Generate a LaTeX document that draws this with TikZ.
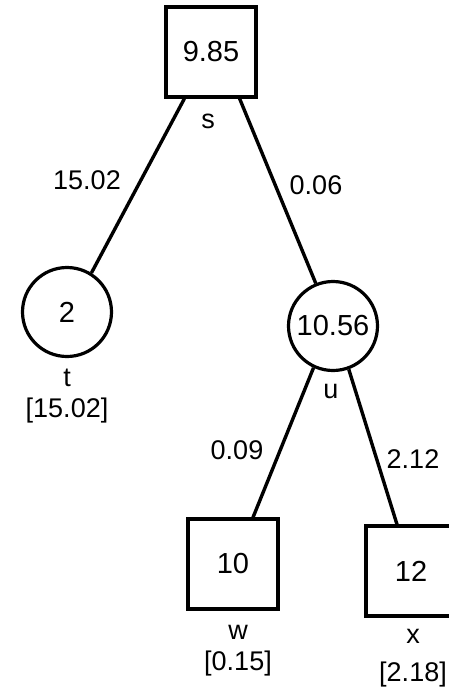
\documentclass[tikz,border=0pt]{standalone}
\usepackage{fontspec}
\setmainfont{Liberation Sans}
\begin{document}
\begin{tikzpicture}[x=1pt,y=-1pt,
  every node/.style={font=\fontsize{27}{30}\selectfont, inner sep=0pt},
  sq/.style={draw, line width=3.2pt, minimum size=90pt, font=\fontsize{29}{32}\selectfont},
  cir/.style={draw, circle, line width=3.2pt, minimum size=89pt, font=\fontsize{29}{32}\selectfont},
  edge/.style={line width=3.4pt}]
\useasboundingbox (0,0) rectangle (449,696);
\node[sq] (s) at (211,52) {9.85};
\node (sl) at (208,121) {s};
\node[cir] (t) at (67,312) {2};
\node (tl) at (67,378) {t};
\node (tv) at (67,411) {[15.02]};
\node[cir] (u) at (333,326) {10.56};
\node (ul) at (331,391) {u};
\node[sq] (w) at (233,564) {10};
\node (wl) at (238,632) {w};
\node (wv) at (238,664) {[0.15]};
\node[sq] (x) at (411,571) {12};
\node (xl) at (413,636) {x};
\node (xv) at (413,675) {[2.18]};
\coordinate (s1) at ([xshift=20pt]s.south west);
\coordinate (s2) at ([xshift=-18pt]s.south east);
\coordinate (w1) at ([xshift=20pt]w.north);
\coordinate (x1) at ([xshift=-14pt]x.north);
\draw[edge] (s1) -- (t.58);
\draw[edge] (s2) -- (u.112);
\draw[edge] (u.245) -- (w1);
\draw[edge] (u.290) -- (x1);
\node (e1) at (87,180) {15.02};
\node (e2) at (316,185) {0.06};
\node (e3) at (237,450) {0.09};
\node (e4) at (413,459) {2.12};
\end{tikzpicture}
\end{document}
